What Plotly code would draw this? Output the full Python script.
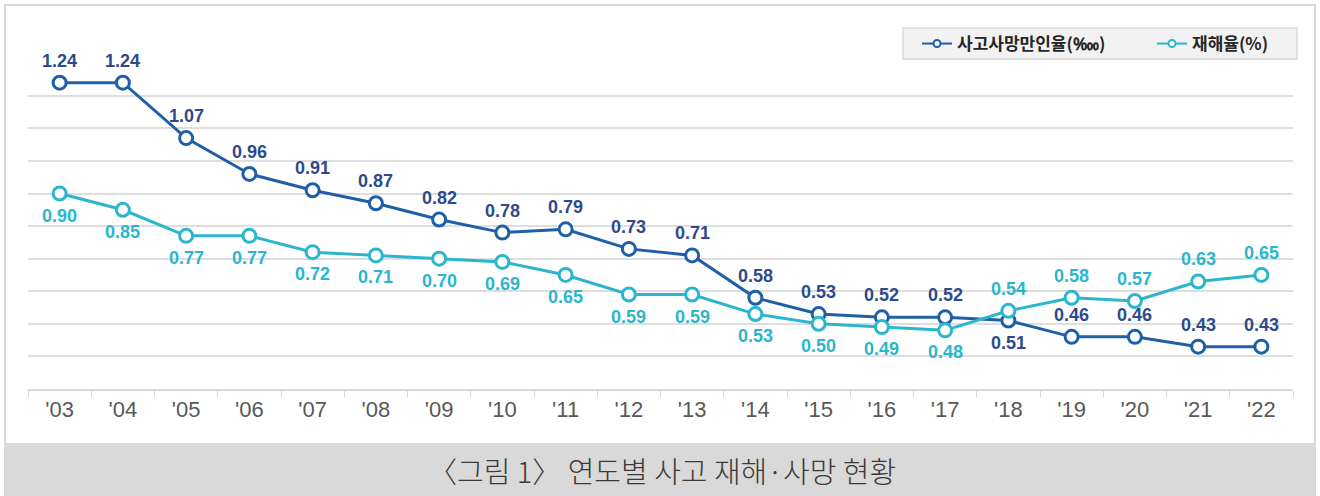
import plotly.graph_objects as go

years = ["'03", "'04", "'05", "'06", "'07", "'08", "'09", "'10", "'11", "'12",
         "'13", "'14", "'15", "'16", "'17", "'18", "'19", "'20", "'21", "'22"]
death_rate = [1.24, 1.24, 1.07, 0.96, 0.91, 0.87, 0.82, 0.78, 0.79, 0.73,
              0.71, 0.58, 0.53, 0.52, 0.52, 0.51, 0.46, 0.46, 0.43, 0.43]
injury_rate = [0.90, 0.85, 0.77, 0.77, 0.72, 0.71, 0.70, 0.69, 0.65, 0.59,
               0.59, 0.53, 0.50, 0.49, 0.48, 0.54, 0.58, 0.57, 0.63, 0.65]
death_name = "사고사망만인율(‱)"
injury_name = "재해율(%)"
caption = "〈그림 1〉 연도별 사고 재해·사망 현황"

# label placement (above = True)
death_above = [True] * 20
death_above[15] = False
injury_above = [False] * 15 + [True] * 5

DARK = "#1F5FA8"
DARK_LBL = "#2D4B8C"
TEAL = "#2BB6CE"

W, H = 1320, 496
L, R, T, B = 28, 27, 63, 107
pw, ph = W - L - R, H - T - B

def px_x(p):
    return (p - L) / pw

def px_y(p):
    return (H - B - p) / ph

fig = go.Figure()
fig.add_trace(go.Scatter(
    x=years, y=death_rate, mode="lines+markers", showlegend=False,
    line=dict(color=DARK, width=3),
    marker=dict(size=13, color="white", line=dict(color=DARK, width=3)),
    cliponaxis=False))
fig.add_trace(go.Scatter(
    x=years, y=injury_rate, mode="lines+markers", showlegend=False,
    line=dict(color=TEAL, width=3),
    marker=dict(size=13, color="white", line=dict(color=TEAL, width=3)),
    cliponaxis=False))
# legend entries
fig.add_trace(go.Scatter(
    x=[None], y=[None], mode="lines+markers", name=death_name,
    line=dict(color=DARK, width=2),
    marker=dict(size=7, color="white", line=dict(color=DARK, width=2))))
fig.add_trace(go.Scatter(
    x=[None], y=[None], mode="lines+markers", name=injury_name,
    line=dict(color=TEAL, width=2),
    marker=dict(size=7, color="white", line=dict(color=TEAL, width=2))))

annos = []
for xi, v, up in zip(years, death_rate, death_above):
    annos.append(dict(x=xi, y=v, xref="x", yref="y", text=f"{v:.2f}",
                      showarrow=False, yshift=22 if up else -22,
                      font=dict(family="Liberation Sans, Arial", size=18,
                                color=DARK_LBL, weight="bold")))
for xi, v, up in zip(years, injury_rate, injury_above):
    annos.append(dict(x=xi, y=v, xref="x", yref="y", text=f"{v:.2f}",
                      showarrow=False, yshift=22 if up else -22,
                      font=dict(family="Liberation Sans, Arial", size=18,
                                color=TEAL, weight="bold")))
annos.append(dict(x=px_x(662), y=px_y(470), xref="paper", yref="paper",
                  text=caption, showarrow=False, xanchor="center", yanchor="middle",
                  font=dict(family="Noto Sans CJK KR", size=29, color="#3a3a3a",
                            weight=300)))

shapes = [
    dict(type="rect", xref="paper", yref="paper",
         x0=px_x(5), x1=px_x(1316), y0=px_y(443), y1=px_y(497),
         fillcolor="#d9d9d9", line=dict(width=0), layer="below"),
    dict(type="rect", xref="paper", yref="paper",
         x0=px_x(5), x1=px_x(1315), y0=px_y(497), y1=px_y(5),
         fillcolor="rgba(0,0,0,0)", line=dict(color="#d9d9d9", width=2), layer="above"),
    # legend box
    dict(type="rect", xref="paper", yref="paper",
         x0=px_x(903), x1=px_x(1297), y0=px_y(59), y1=px_y(28),
         fillcolor="#f2f2f2", line=dict(color="#d9d9d9", width=1.5), layer="below"),
]

fig.update_layout(
    width=W, height=H,
    margin=dict(l=L, r=R, t=T, b=B, autoexpand=False),
    paper_bgcolor="white", plot_bgcolor="white",
    annotations=annos, shapes=shapes,
    showlegend=True,
    legend=dict(orientation="h", x=px_x(917), xanchor="left",
                y=px_y(44), yanchor="middle",
                bgcolor="rgba(0,0,0,0)", borderwidth=0,
                font=dict(family="Noto Sans CJK KR", size=17, color="#262626",
                          weight="bold"),
                itemwidth=30, entrywidth=190, entrywidthmode="pixels"),
    xaxis=dict(type="category", range=[-0.5, 19.5], showgrid=False, showline=True,
               linecolor="#d9d9d9", linewidth=2,
               ticks="outside", tickson="boundaries", ticklen=6,
               tickcolor="#d9d9d9", tickwidth=1,
               tickfont=dict(family="Liberation Sans, Arial", size=22, color="#595959")),
    yaxis=dict(range=[0.3, 1.3005], dtick=0.1, tick0=0.3, showticklabels=False,
               showgrid=True, gridcolor="#dedede", gridwidth=2,
               zeroline=False, showline=False),
)

fig.write_html("out.html", config={"displayModeBar": False},
               post_script="document.body.style.margin='0px';")
